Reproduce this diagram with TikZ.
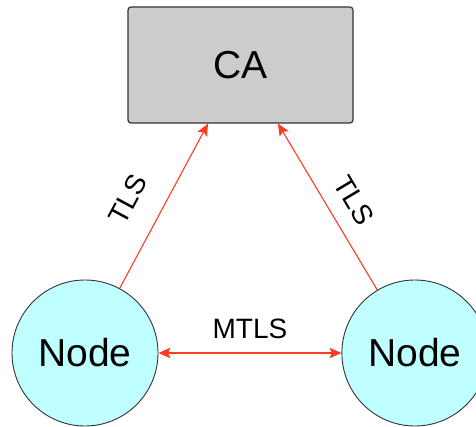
\documentclass[tikz,border=0pt]{standalone}
\usepackage{fontspec}
\setmainfont{Liberation Sans}
\usetikzlibrary{arrows.meta,positioning}

\definecolor{tlsred}{RGB}{255,59,33}
\definecolor{nodecyan}{RGB}{192,255,255}
\definecolor{cagray}{RGB}{204,204,204}

\begin{document}
\begin{tikzpicture}[x=1pt,y=-1pt,
    authority/.style={draw=black!80,line width=1.2pt,fill=cagray,rounded corners=3pt,
      minimum width=225pt,minimum height=116pt,font=\fontsize{39}{44}\selectfont},
    peer/.style={circle,draw=black!80,line width=0.9pt,fill=nodecyan,minimum size=146pt,
      inner sep=0pt,font=\fontsize{39}{44}\selectfont},
    redtip/.tip={Stealth[length=12pt,width=10.5pt,inset=2.5pt]},
    link/.style={draw=tlsred,line width=1.1pt,-redtip},
    bothways/.style={draw=tlsred,line width=1.1pt,redtip-redtip},
    tag/.style={font=\fontsize{28}{32}\selectfont}]
    \useasboundingbox (0,0) rectangle (476,427);
    \node (ca) [authority] at (240.5,65) {CA};
    \node (left) [peer] at (85,353) {Node};
    \node (right) [peer,right=183pt of left] {Node};
    \draw[link] (left) -- node[tag,pos=0.44,sloped,above=21pt] {TLS} ([xshift=-32.5pt]ca.south);
    \draw[link] (right) -- node[tag,pos=0.46,sloped,above=12pt] {TLS} ([xshift=37.5pt]ca.south);
    \draw[bothways] (left) -- node[tag,above=10pt] {MTLS} (right);
  \end{tikzpicture}
\end{document}
